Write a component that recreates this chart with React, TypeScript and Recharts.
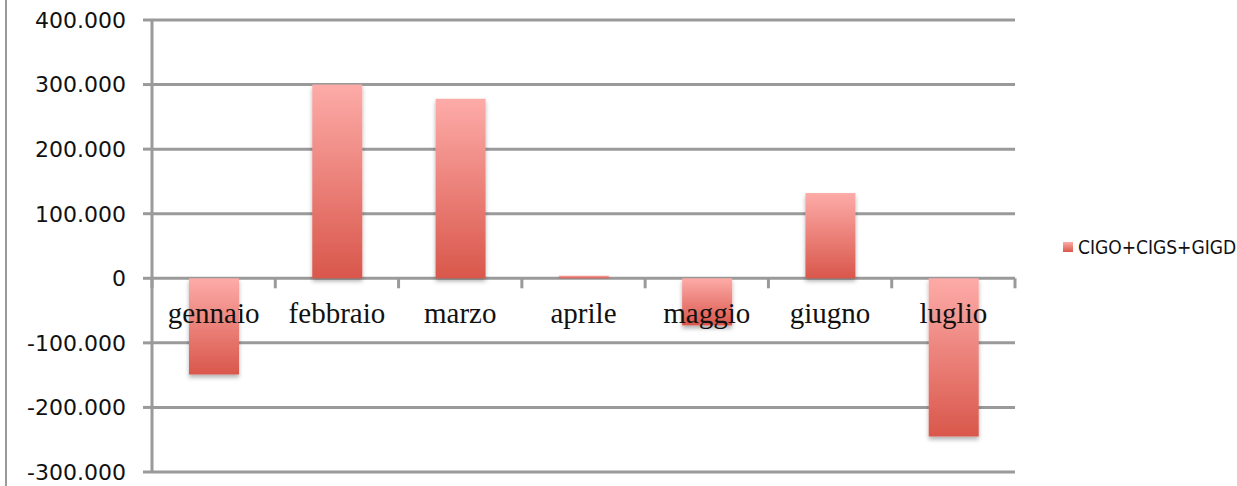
import React from "react";
import { ComposedChart, Bar, Line, XAxis, YAxis, CartesianGrid } from "recharts";

const mesi = ["gennaio", "febbraio", "marzo", "aprile", "maggio", "giugno", "luglio"];
const cigoCigsGigd = [-149000, 300000, 278000, 4000, -73000, 132000, -245000];
const asseZero = [0, 0, 0, 0, 0, 0, 0];
const yTicks = [-300000, -200000, -100000, 0, 100000, 200000, 300000, 400000];
const serieNome = "CIGO+CIGS+GIGD";

const data = mesi.map((mese, i) => ({ mese, valore: cigoCigsGigd[i], zero: asseZero[i] }));

const W = 1237;
const H = 486;
const margin = { top: 20, right: 222, bottom: 14, left: 0 };
const Y_AXIS_W = 152;
const BAND = (W - margin.right - Y_AXIS_W) / mesi.length;

const GRIGIO = "#9a9a9a";

const formatIt = (v: number) =>
  (v < 0 ? "-" : "") + Math.abs(v).toString().replace(/\B(?=(\d{3})+(?!\d))/g, ".");

const BarraOmbra = (props: any) => {
  const { x, y, width, height } = props;
  if (width == null || height == null) return null;
  const top = height < 0 ? y + height : y;
  const h = Math.abs(height);
  return <rect x={x} y={top} width={width} height={h} fill="url(#gradBarra)" filter="url(#ombraBarra)" />;
};

const EtichettaMese = (props: any) => {
  const { x, y, index } = props;
  return (
    <g>
      <line x1={x - BAND / 2} y1={y} x2={x - BAND / 2} y2={y + 10} stroke={GRIGIO} strokeWidth={3} />
      {index === mesi.length - 1 && (
        <line x1={x + BAND / 2} y1={y} x2={x + BAND / 2} y2={y + 10} stroke={GRIGIO} strokeWidth={3} />
      )}
      <text
        x={x}
        y={y + 45}
        textAnchor="middle"
        fontFamily="'Liberation Serif', serif"
        fontSize={29}
        fill="#111"
      >
        {mesi[index]}
      </text>
    </g>
  );
};

export default function App() {
  return (
    <div style={{ position: "absolute", left: 0, top: 0, width: W, height: H, background: "#fff" }}>
      <svg width={0} height={0} style={{ position: "absolute" }}>
        <defs>
          <linearGradient id="gradBarra" x1="0" y1="0" x2="0" y2="1">
            <stop offset="0%" stopColor="#fdaba8" />
            <stop offset="100%" stopColor="#d9574b" />
          </linearGradient>
          <filter id="ombraBarra" x="-20%" y="-20%" width="140%" height="140%">
            <feDropShadow dx={0} dy={3} stdDeviation={2} floodColor="#000" floodOpacity={0.3} />
          </filter>
        </defs>
      </svg>
      <div style={{ position: "absolute", left: 5, top: 0, width: 2, height: H, background: GRIGIO }} />
      <ComposedChart width={W} height={H} data={data} margin={margin}>
        <CartesianGrid vertical={false} stroke={GRIGIO} strokeWidth={3} />
        <XAxis dataKey="mese" hide />
        <YAxis
          width={Y_AXIS_W}
          domain={[-300000, 400000]}
          ticks={yTicks}
          tickFormatter={formatIt}
          tickSize={9}
          tickMargin={17}
          axisLine={{ stroke: GRIGIO, strokeWidth: 3 }}
          tickLine={{ stroke: GRIGIO, strokeWidth: 3 }}
          tick={{ fontFamily: "'DejaVu Sans', sans-serif", fontSize: 22, fill: "#111" }}
        />
        <Bar dataKey="valore" name={serieNome} barSize={50} shape={BarraOmbra} isAnimationActive={false} />
        <Line
          dataKey="zero"
          stroke="none"
          dot={false}
          activeDot={false}
          legendType="none"
          label={EtichettaMese}
          isAnimationActive={false}
        />
      </ComposedChart>
      <div
        style={{
          position: "absolute",
          left: 1063,
          top: 236,
          display: "flex",
          alignItems: "center",
          whiteSpace: "nowrap",
        }}
      >
        <svg width={10} height={10} style={{ marginRight: 5 }}>
          <rect x={0} y={0} width={10} height={10} fill="url(#gradBarra)" />
        </svg>
        <span
          style={{
            fontFamily: "'DejaVu Sans Condensed', 'DejaVu Sans', sans-serif",
            fontStretch: "condensed",
            fontSize: 19,
            color: "#111",
          }}
        >
          {serieNome}
        </span>
      </div>
    </div>
  );
}
